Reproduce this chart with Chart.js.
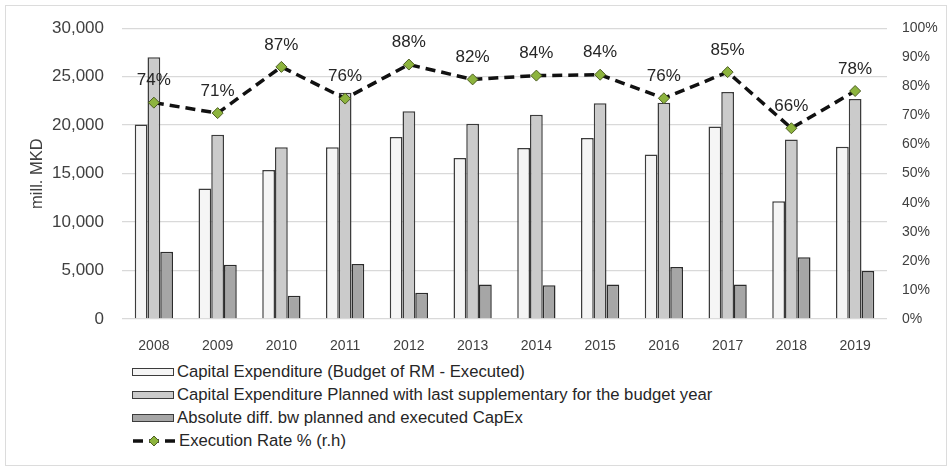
<!DOCTYPE html>
<html>
<head>
<meta charset="utf-8">
<script src="https://cdn.jsdelivr.net/npm/chart.js@4"></script>
<style>
  body { margin: 0; background: #fff; }
  .frame { position: absolute; left: 5px; top: 5px; width: 940px; height: 459px; border: 1px solid #dcdcdc; }
  .chartBox { position: absolute; left: 0; top: 0; width: 952px; height: 352px; }
  .legend { position: absolute; left: 132px; top: 360px; font-family: "Liberation Sans", Arial, sans-serif; font-size: 16.7px; color: #262626; }
  .legend div { height: 23px; line-height: 23px; white-space: nowrap; }
  .legend .sw { display: inline-block; width: 40px; height: 6px; border: 1.5px solid #3c3c3c; margin-right: 3px; vertical-align: middle; position: relative; top: -1px; }
  .legend svg { vertical-align: middle; margin-right: 3px; position: relative; top: -1px; }
</style>
</head>
<body>
<div class="frame"></div>
<div class="chartBox"><canvas class="capex" width="952" height="352"></canvas></div>
<div class="legend"></div>
<script>
// years on the x axis
let years = ["2008", "2009", "2010", "2011", "2012", "2013", "2014", "2015", "2016", "2017", "2018", "2019"];

// mill. MKD
let executed = [20070, 13450, 15360, 17710, 18770, 16620, 17640, 18670, 16960, 19860, 12150, 17780];
let planned = [27000, 19010, 17710, 23345, 21430, 20140, 21060, 22250, 22320, 23410, 18530, 22700];
let absDiff = [6930, 5600, 2390, 5665, 2700, 3550, 3480, 3550, 5360, 3550, 6380, 4950];

// execution rate in %
let execRate = [74.4, 70.8, 86.7, 75.8, 87.5, 82.4, 83.7, 84.0, 75.9, 84.9, 65.6, 78.4];

let labelNames = [
  "Capital Expenditure (Budget of RM - Executed)",
  "Capital Expenditure Planned with last supplementary for the budget year",
  "Absolute diff. bw planned and executed CapEx",
  "Execution Rate % (r.h)",
];

let fontFamily = '"Liberation Sans", Arial, sans-serif';
let textColor = "#404040";

// draw the % value above every point of the line
let rateLabels = {
  id: "rateLabels",
  afterDatasetsDraw(chart) {
    let meta = chart.getDatasetMeta(3);
    let ctx = chart.ctx;
    ctx.save();
    ctx.font = "17px " + fontFamily;
    ctx.fillStyle = "#262626";
    ctx.textAlign = "center";
    ctx.textBaseline = "middle";
    meta.data.forEach(function (pt, i) {
      ctx.fillText(Math.round(execRate[i]) + "%", pt.x, pt.y - 22);
    });
    ctx.restore();
  },
};

try {
  let ctx = document.querySelector(".capex").getContext("2d");

  let chart = new Chart(ctx, {
    type: "bar",
    data: {
      labels: years,
      datasets: [
        {
          label: labelNames[0],
          data: executed,
          backgroundColor: "#f5f5f5",
          borderColor: "#3c3c3c",
          borderWidth: 1.5,
          order: 1,
        },
        {
          label: labelNames[1],
          data: planned,
          backgroundColor: "#cbcbcb",
          borderColor: "#3c3c3c",
          borderWidth: 1.5,
          order: 1,
        },
        {
          label: labelNames[2],
          data: absDiff,
          backgroundColor: "#a6a6a6",
          borderColor: "#2c2c2c",
          borderWidth: 1.5,
          order: 1,
        },
        {
          type: "line",
          label: labelNames[3],
          data: execRate,
          yAxisID: "y1",
          borderColor: "#111",
          borderWidth: 3.5,
          borderDash: [10, 6],
          tension: 0,
          pointStyle: "rectRot",
          pointRadius: 5.5,
          pointBackgroundColor: "#8db43e",
          pointBorderColor: "#4d5e22",
          pointBorderWidth: 1,
          order: 0,
        },
      ],
    },
    options: {
      responsive: false,
      devicePixelRatio: 1,
      animation: false,
      layout: { padding: { top: 21, left: 0, right: 0, bottom: 0 } },
      datasets: {
        bar: { categoryPercentage: 0.6, barPercentage: 1.0 },
      },
      plugins: {
        legend: { display: false },
        tooltip: { enabled: false },
      },
      scales: {
        x: {
          grid: { display: false },
          border: { display: false },
          ticks: { font: { family: fontFamily, size: 14 }, color: textColor, padding: 11 },
          afterFit(scale) {
            scale.height = 33;
          },
        },
        y: {
          min: 0,
          max: 30000,
          ticks: {
            stepSize: 5000,
            font: { family: fontFamily, size: 17 },
            color: textColor,
            padding: 18,
            callback: function (v) {
              return v.toLocaleString("en-US");
            },
          },
          grid: { color: "#d9d9d9", lineWidth: 1.3, drawTicks: false },
          border: { display: false },
          title: {
            display: true,
            text: "mill. MKD",
            font: { family: fontFamily, size: 16.5 },
            color: textColor,
            padding: { top: 28, bottom: 0 },
          },
          afterFit(scale) {
            scale.width = 122;
          },
        },
        y1: {
          position: "right",
          min: 0,
          max: 100,
          ticks: {
            stepSize: 10,
            font: { family: fontFamily, size: 14 },
            color: textColor,
            padding: 15,
            callback: function (v) {
              return v + "%";
            },
          },
          grid: { drawOnChartArea: false, drawTicks: false },
          border: { display: false },
          afterFit(scale) {
            scale.width = 65;
          },
        },
      },
    },
    plugins: [rateLabels],
  });

  // legend below the chart, one item per row
  let legend = document.querySelector(".legend");
  chart.data.datasets.forEach(function (ds) {
    let row = document.createElement("div");
    if (ds.type === "line") {
      row.innerHTML =
        '<svg width="44" height="12"><line x1="1" y1="6" x2="43" y2="6" stroke="#111" stroke-width="3.5" stroke-dasharray="10,6"/>' +
        '<polygon points="22,1 27,6 22,11 17,6" fill="#8db43e" stroke="#4d5e22" stroke-width="1"/></svg>';
    } else {
      row.innerHTML = '<span class="sw" style="background:' + ds.backgroundColor + '"></span>';
    }
    row.appendChild(document.createTextNode(ds.label));
    legend.appendChild(row);
  });
} catch (error) {
  console.log("while creating the chart:", error);
}
</script>
</body>
</html>
